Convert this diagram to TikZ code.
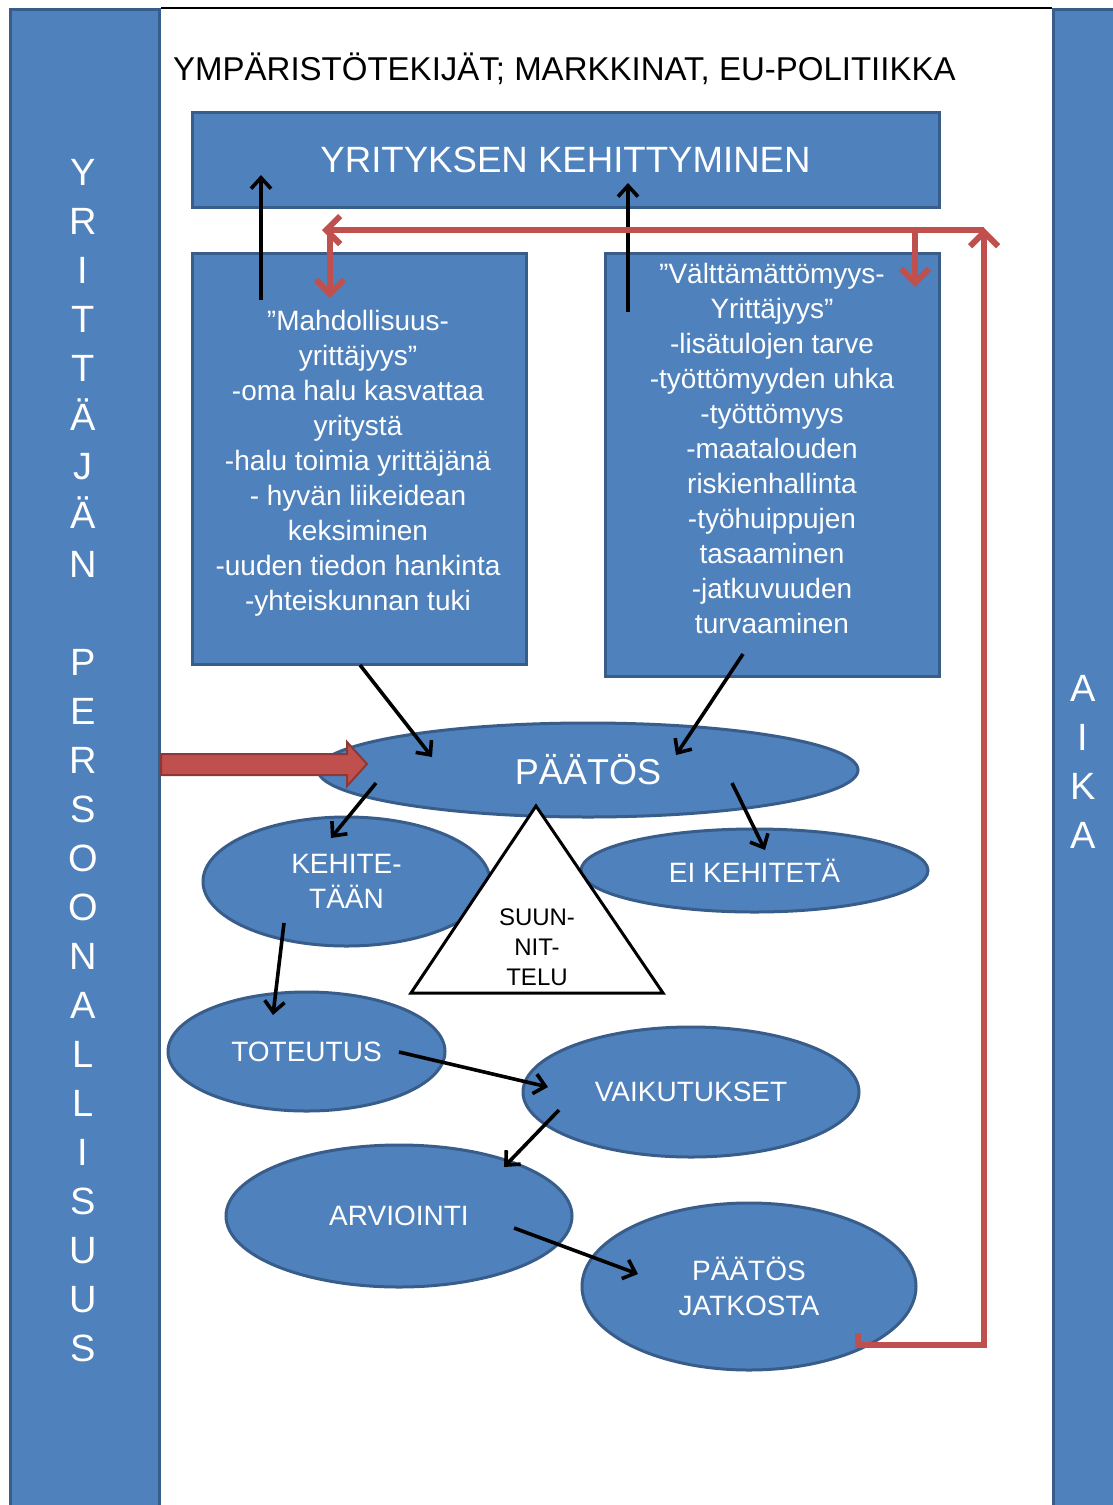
\documentclass[tikz,border=0pt]{standalone}
\usepackage{fontspec}
\setmainfont{Liberation Sans}
\usetikzlibrary{arrows.meta,shapes.geometric,calc}
\definecolor{blu}{HTML}{4F81BD}
\definecolor{bluD}{HTML}{385D8A}
\definecolor{rd}{HTML}{C0504D}
\definecolor{rdD}{HTML}{8C3836}
\tikzset{
  bluebox/.style={draw=bluD, fill=blu, line width=3pt, inner sep=0pt},
  boxtxt/.style={text=white, align=center, inner sep=0pt, font=\fontsize{28}{35}\selectfont},
  ell/.style={ellipse, draw=bluD, fill=blu, line width=3pt, inner sep=0pt, text=white, align=center, font=\fontsize{28}{35}\selectfont},
  vert/.style={text=white, align=center, inner sep=0pt, font=\fontsize{38}{49}\selectfont},
  blk/.style={-{Straight Barb[length=11pt,width=20pt]}, line width=3.6pt, draw=black},
  redarr/.style={-{Straight Barb[length=14pt,width=28pt]}, line width=6pt, draw=rd},
}
\begin{document}
\begin{tikzpicture}[x=1pt,y=-1pt]
\useasboundingbox (0,0) rectangle (1112,1505);
\fill[white] (0,0) rectangle (1112,1505);
% side bars
\node[bluebox, minimum width=149, minimum height=1510, anchor=north west] (lbar) at (9,8) {};
\node[bluebox, minimum width=80, minimum height=1510, anchor=north west] (rbar) at (1052,8) {};
\draw[line width=2pt] (lbar.north east) -- (rbar.north west);
\node[vert, anchor=north] (ltext) at (83,159) {Y\\R\\I\\T\\T\\Ä\\J\\Ä\\N\\\mbox{}\\P\\E\\R\\S\\O\\O\\N\\A\\L\\L\\I\\S\\U\\U\\S};
\node[vert, anchor=north] (rtext) at (1083,675) {A\\I\\K\\A};
% title
\node[anchor=base west, inner sep=0pt, font=\fontsize{33}{38}\selectfont] (title) at (173,80) {YMPÄRISTÖTEKIJÄT; MARKKINAT, EU-POLITIIKKA};
% boxes
\node[bluebox, minimum width=747, minimum height=95, text=white, font=\fontsize{36.6}{40}\selectfont] (top) at (565.5,159.5) {YRITYKSEN KEHITTYMINEN};
\node[bluebox, minimum width=334, minimum height=411] (lbox) at (359,458.5) {};
\node[boxtxt, anchor=north] (ltxt) at (358,310) {”Mahdollisuus-\\yrittäjyys”\\-oma halu kasvattaa\\yritystä\\-halu toimia yrittäjänä\\- hyvän liikeidean\\keksiminen\\-uuden tiedon hankinta\\-yhteiskunnan tuki};
\node[bluebox, minimum width=334, minimum height=423] (rbox) at (772,464.5) {};
\node[boxtxt, anchor=north] (rtxt) at (772,263) {”Välttämättömyys-\\Yrittäjyys”\\-lisätulojen tarve\\-työttömyyden uhka\\-työttömyys\\-maatalouden\\riskienhallinta\\-työhuippujen\\tasaaminen\\-jatkuvuuden\\turvaaminen};
% ellipses
\node[ell, minimum width=540, minimum height=94, font=\fontsize{36}{40}\selectfont] (pa) at (588,770) {PÄÄTÖS};
\node[ell, minimum width=287, minimum height=129] (keh) at (346.5,881.5) {KEHITE-\\TÄÄN};
\node[ell, minimum width=347, minimum height=83] (ei) at (754.5,870.5) {EI KEHITETÄ};
% triangle
\draw[line width=3pt, fill=white, line join=miter] (536,806) -- (663,993) -- (411,993) -- cycle;
\node[align=center, inner sep=0pt, font=\fontsize{24}{30}\selectfont] (tri) at (537,947) {SUUN-\\NIT-\\TELU};
\node[ell, minimum width=277, minimum height=119] (tot) at (306.5,1051.5) {TOTEUTUS};
\node[ell, minimum width=336, minimum height=130] (vai) at (691,1092) {VAIKUTUKSET};
\node[ell, minimum width=346, minimum height=142] (arv) at (399,1216) {ARVIOINTI};
\node[ell, minimum width=334, minimum height=167] (jat) at (749,1286.5) {PÄÄTÖS\\JATKOSTA};
% big red arrow
\draw[fill=rd, draw=rdD, line width=2pt, line join=miter]
  (lbar.east |- 0,754) -- (347,754) -- (347,742) -- (367,764) -- (347,786) -- (347,775) -- (lbar.east |- 0,775) -- cycle;
% black arrows
\draw[blk] ([shift={(-98,-158.5)}]lbox.center) -- ([shift={(-304.5,15.5)}]top.center);
\draw[blk] ([shift={(-144,-152.5)}]rbox.center) -- ([shift={(62.5,23.5)}]top.center);
\draw[blk] ([shift={(1,206.5)}]lbox.center) -- ([shift={(-156,-13)}]pa.center);
\draw[blk] ([shift={(-29,189.5)}]rbox.center) -- ([shift={(88,-15)}]pa.center);
\draw[blk] ([shift={(-212,13)}]pa.center) -- ([shift={(-15.5,-43.5)}]keh.center);
\draw[blk] ([shift={(144,13)}]pa.center) -- ([shift={(10.5,-20.5)}]ei.center);
\draw[blk] ([shift={(-62.5,41.5)}]keh.center) -- ([shift={(-33.5,-36.5)}]tot.center);
\draw[blk] ([shift={(92.5,0.5)}]tot.center) -- ([shift={(-143,-5)}]vai.center);
\draw[blk] ([shift={(-132,18)}]vai.center) -- ([shift={(105,-49)}]arv.center);
\draw[blk] ([shift={(115,12)}]arv.center) -- ([shift={(-111,-12.5)}]jat.center);
% red feedback loop
\coordinate (corner) at (984,1345);
\coordinate (loopT) at (984,230);
\coordinate (loopL) at (322,230);
\draw[redarr, line join=miter] ([shift={(109,46.5)}]jat.center) -- ([shift={(109,58.5)}]jat.center) -- (corner) -- ([yshift=2]loopT);
\draw[redarr] (loopT) -- (loopL);
\draw[redarr] (loopL -| 330,0) -- ([shift={(-29,-160.5)}]lbox.center);
\draw[redarr] (loopT -| 915,0) -- ([shift={(143,-177.5)}]rbox.center);
\end{tikzpicture}
\end{document}
